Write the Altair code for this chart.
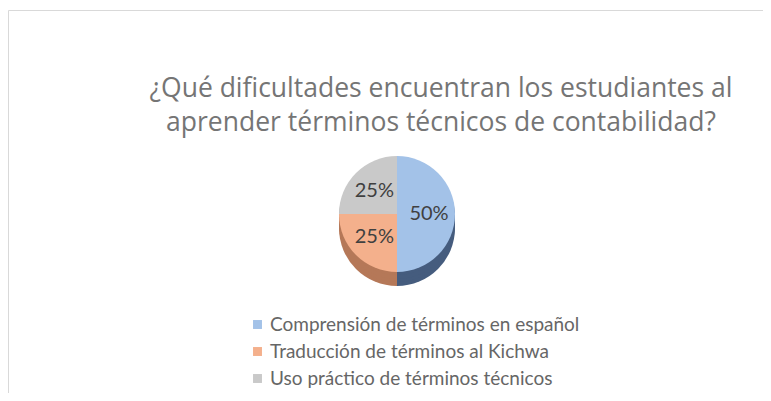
import altair as alt
import pandas as pd

# ---- data ----
categories = [
    "Comprensión de términos en español",
    "Traducción de términos al Kichwa",
    "Uso práctico de términos técnicos",
]
values = [50, 25, 25]
title_lines = [
    "¿Qué dificultades encuentran los estudiantes al",
    "aprender términos técnicos de contabilidad?",
]

top_colors = ["#a3c2e8", "#f4b08c", "#c9c9c9"]
side_colors = ["#455c7e", "#b57858", "#9a9a9a"]

df = pd.DataFrame({"categoria": categories, "valor": values})

W, H = 755, 385
CX, CY = 389, 206
R = 58
DEPTH = 14
FONT = "Lato"
TITLE_FONT = "Open Sans"

theta = alt.Theta("valor:Q", stack=True)

# 3D-like side: darker copies shifted downwards
side_layers = []
for off in [DEPTH, DEPTH * 3 // 4, DEPTH // 2, DEPTH // 4]:
    side_layers.append(
        alt.Chart(df)
        .mark_arc(outerRadius=R)
        .encode(
            theta=theta,
            color=alt.Color(
                "categoria:N",
                sort=categories,
                scale=alt.Scale(domain=categories, range=side_colors),
                legend=None,
            ),
            x=alt.value(CX),
            y=alt.value(CY + off),
        )
    )
side = alt.layer(*side_layers)

top = (
    alt.Chart(df)
    .mark_arc(outerRadius=R)
    .encode(
        theta=theta,
        color=alt.Color(
            "categoria:N",
            sort=categories,
            scale=alt.Scale(domain=categories, range=top_colors),
            legend=alt.Legend(
                title=None,
                orient="none",
                legendX=240,
                legendY=307,
                labelFont=FONT,
                labelFontSize=19,
                labelColor="#666666",
                labelLimit=500,
                symbolType="square",
                symbolSize=80,
                symbolStrokeWidth=0,
                rowPadding=7,
                labelOffset=3,
            ),
        ),
        x=alt.value(CX),
        y=alt.value(CY),
    )
)

labels = (
    alt.Chart(df)
    .transform_joinaggregate(total="sum(valor)")
    .transform_calculate(pct="round(datum.valor / datum.total * 100) + '%'")
    .mark_text(radius=32, font=FONT, fontSize=20)
    .encode(
        theta=theta,
        text="pct:N",
        color=alt.Color(
            "categoria:N",
            sort=categories,
            scale=alt.Scale(domain=categories, range=["#404040"] * 3),
            legend=None,
        ),
        x=alt.value(CX),
        y=alt.value(CY),
    )
)

title = (
    alt.Chart(pd.DataFrame({"t": [0]}))
    .mark_text(
        text=title_lines,
        font=TITLE_FONT,
        fontSize=26.5,
        lineHeight=34,
        color="#757575",
        align="center",
        baseline="alphabetic",
    )
    .encode(x=alt.value(433), y=alt.value(89))
)

border_top = alt.Chart(pd.DataFrame({"t": [0]})).mark_rule(
    color="#d9d9d9", strokeWidth=1
).encode(x=alt.value(0.5), x2=alt.value(W), y=alt.value(2.5))
border_left = alt.Chart(pd.DataFrame({"t": [0]})).mark_rule(
    color="#d9d9d9", strokeWidth=1
).encode(x=alt.value(0.5), y=alt.value(2.5), y2=alt.value(H))

chart = (
    alt.layer(border_top, border_left, side, top, labels, title)
    .resolve_scale(color="independent")
    .properties(
        width=W,
        height=H,
        padding=0,
        autosize=alt.AutoSizeParams(type="none"),
        background="white",
    )
    .configure_view(strokeWidth=0)
)

chart.save("out.html", embed_options={"renderer": "svg", "actions": False})
